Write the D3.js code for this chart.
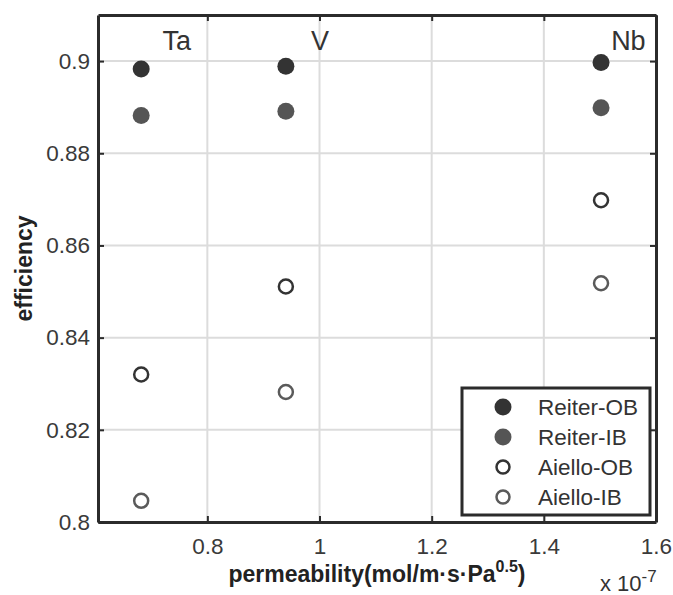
<!DOCTYPE html>
<html>
<head>
<meta charset="utf-8">
<script src="https://cdn.jsdelivr.net/npm/d3@7"></script>
<style>
  body { margin: 0; background: #fff; }
  svg { font-family: "Liberation Sans", Arial, sans-serif; }
</style>
</head>
<body>
<svg width="673" height="595"></svg>
<script>
// permeability (x 1e-7) for each metal
const metals = ["Ta", "V", "Nb"];
const permeability = [0.682, 0.940, 1.502];

// efficiency per series
const reiterOB = [0.8983, 0.8989, 0.8997];
const reiterIB = [0.8882, 0.8891, 0.8899];
const aielloOB = [0.8320, 0.8511, 0.8698];
const aielloIB = [0.8046, 0.8282, 0.8518];

// label anchors (data units)
const labelX = [0.72, 0.985, 1.52];
const labelY = [0.9025, 0.9025, 0.9025];

const xTicks = [0.8, 1, 1.2, 1.4, 1.6];
const yTicks = [0.8, 0.82, 0.84, 0.86, 0.88, 0.9];

const series = [
    {name: "Reiter-OB", values: reiterOB, filled: true, color: "#333333"},
    {name: "Reiter-IB", values: reiterIB, filled: true, color: "#555555"},
    {name: "Aiello-OB", values: aielloOB, filled: false, color: "#333333"},
    {name: "Aiello-IB", values: aielloIB, filled: false, color: "#5a5a5a"}
];

const svg = d3.select("svg");
const area = {left: 98, right: 656, top: 15, bottom: 522};

const scX = d3.scaleLinear().domain([0.605, 1.6]).range([area.left, area.right]);
const scY = d3.scaleLinear().domain([0.8, 0.91]).range([area.bottom, area.top]);

// grid
svg.append("g").selectAll("line").data(xTicks.slice(0, -1)).enter().append("line")
    .attr("x1", d => scX(d)).attr("x2", d => scX(d))
    .attr("y1", area.top).attr("y2", area.bottom)
    .attr("stroke", "#dcdcdc").attr("stroke-width", 2);
svg.append("g").selectAll("line").data(yTicks.slice(1)).enter().append("line")
    .attr("x1", area.left).attr("x2", area.right)
    .attr("y1", d => scY(d)).attr("y2", d => scY(d))
    .attr("stroke", "#dcdcdc").attr("stroke-width", 2);

// axes (ticks inside)
const axisX = d3.axisBottom(scX).tickValues(xTicks).tickFormat(d3.format("")).tickSizeInner(-6).tickSizeOuter(0).tickPadding(16);
const axisY = d3.axisLeft(scY).tickValues(yTicks).tickFormat(d3.format("")).tickSizeInner(-6).tickSizeOuter(0).tickPadding(8);
const axisTop = d3.axisTop(scX).tickValues(xTicks).tickFormat("").tickSizeInner(-6).tickSizeOuter(0);
const axisRight = d3.axisRight(scY).tickValues(yTicks).tickFormat("").tickSizeInner(-6).tickSizeOuter(0);

function styleAxis(g) {
    g.select(".domain").attr("stroke", "#2b2b2b").attr("stroke-width", 3);
    g.selectAll(".tick line").attr("stroke", "#2b2b2b").attr("stroke-width", 2);
    g.selectAll("text").attr("fill", "#3a3a3a").style("font-size", "22.5px");
}

svg.append("g").attr("transform", `translate(0,${area.bottom})`).call(axisX).call(styleAxis);
svg.append("g").attr("transform", `translate(${area.left},0)`).call(axisY).call(styleAxis);
svg.append("g").attr("transform", `translate(0,${area.top})`).call(axisTop).call(styleAxis);
svg.append("g").attr("transform", `translate(${area.right},0)`).call(axisRight).call(styleAxis);

// points
series.forEach(s => {
    svg.append("g").selectAll("circle").data(s.values).enter().append("circle")
        .attr("cx", (d, i) => scX(permeability[i]))
        .attr("cy", d => scY(d))
        .attr("r", s.filled ? 8.5 : 7)
        .attr("fill", s.filled ? s.color : "none")
        .attr("stroke", s.filled ? "none" : s.color)
        .attr("stroke-width", 2.5);
});

// metal labels
svg.append("g").selectAll("text").data(metals).enter().append("text")
    .attr("x", (d, i) => scX(labelX[i]))
    .attr("y", (d, i) => scY(labelY[i]))
    .attr("fill", "#333")
    .style("font-size", "27px")
    .text(d => d);

// axis titles
svg.append("text")
    .attr("transform", `translate(32,${(area.top + area.bottom) / 2}) rotate(-90)`)
    .attr("text-anchor", "middle")
    .attr("fill", "#222")
    .style("font-size", "23px").style("font-weight", "bold")
    .text("efficiency");

const xt = svg.append("text")
    .attr("x", (area.left + area.right) / 2)
    .attr("y", 582)
    .attr("text-anchor", "middle")
    .attr("fill", "#222")
    .style("font-size", "23px").style("font-weight", "bold");
xt.append("tspan").text("permeability(mol/m·s·Pa");
xt.append("tspan").attr("dy", -10).style("font-size", "16px").text("0.5");
xt.append("tspan").attr("dy", 10).text(")");

const ex = svg.append("text")
    .attr("x", 600).attr("y", 591)
    .attr("fill", "#333")
    .style("font-size", "22px");
ex.append("tspan").text("x 10");
ex.append("tspan").attr("dy", -9).style("font-size", "17px").text("-7");

// legend
const lg = {x: 462, y: 388, w: 188, h: 127};
svg.append("rect")
    .attr("x", lg.x).attr("y", lg.y).attr("width", lg.w).attr("height", lg.h)
    .attr("fill", "#fff").attr("stroke", "#2b2b2b").attr("stroke-width", 3);

const rows = svg.append("g").selectAll("g").data(series).enter().append("g")
    .attr("transform", (d, i) => `translate(${lg.x},${lg.y + 19 + i * 30})`);
rows.append("circle")
    .attr("cx", 41)
    .attr("r", d => d.filled ? 8.5 : 6.5)
    .attr("fill", d => d.filled ? d.color : "none")
    .attr("stroke", d => d.filled ? "none" : d.color)
    .attr("stroke-width", 2.5);
rows.append("text")
    .attr("x", 76).attr("dy", "0.36em")
    .attr("fill", "#333")
    .style("font-size", "22.5px")
    .text(d => d.name);
</script>
</body>
</html>
